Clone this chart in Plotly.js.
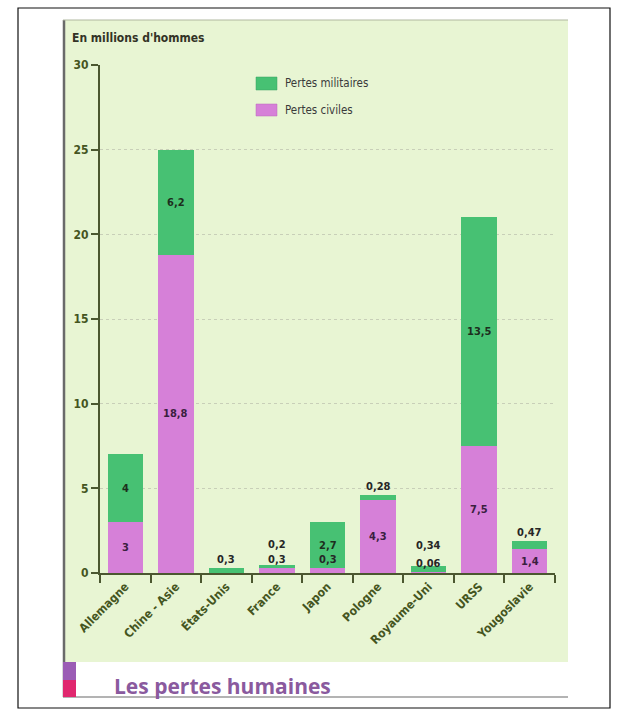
<!DOCTYPE html>
<html>
<head>
<meta charset="utf-8">
<script src="https://cdn.plot.ly/plotly-3.0.1.min.js"></script>
<style>html,body{margin:0;padding:0;background:#fff;}#chart{width:628px;height:724px;}</style>
</head>
<body>
<div id="chart"></div>
<script>
const categories = ["Allemagne", "Chine - Asie", "États-Unis", "France", "Japon", "Pologne", "Royaume-Uni", "URSS", "Yougoslavie"];
const pertesCiviles = [3, 18.8, 0, 0.3, 0.3, 4.3, 0.06, 7.5, 1.4];
const pertesMilitaires = [4, 6.2, 0.3, 0.2, 2.7, 0.28, 0.34, 13.5, 0.47];
const yTicks = [0, 5, 10, 15, 20, 25, 30];
const seriesNames = ["Pertes militaires", "Pertes civiles"];
const unitLabel = "En millions d'hommes";
const chartTitle = "Les pertes humaines";

const W = 628, H = 724;
const L = 100, R = 555, T = 65, B = 573;
const px = x => (x - L) / (R - L);
const py = y => (B - y) / (B - T);

const green = "#47c173", purple = "#d680d8";
const axisCol = "#4b5730";
const fr = v => String(v).replace('.', ',');
const narrow = "DejaVu Sans Condensed, Liberation Sans Narrow, DejaVu Sans, sans-serif";

const traces = [
  {type: "bar", x: categories, y: pertesCiviles, name: seriesNames[1],
   marker: {color: purple}, hoverinfo: "none"},
  {type: "bar", x: categories, y: pertesMilitaires, name: seriesNames[0],
   marker: {color: green}, hoverinfo: "none"}
];

const labelFont = {family: narrow, size: 11, color: "#262626"};
const annotations = [];
categories.forEach((c, i) => {
  const civ = pertesCiviles[i], mil = pertesMilitaires[i];
  const total = civ + mil;
  let civSmall = false;
  if (civ > 0) {
    if (civ >= 1) {
      annotations.push({x: c, y: civ / 2, xref: "x", yref: "y", text: "<b>" + fr(civ) + "</b>", showarrow: false, font: Object.assign({}, labelFont, {color: "#3a1f3f"})});
    } else {
      civSmall = true;
      annotations.push({x: c, y: civ, xref: "x", yref: "y", yanchor: "bottom", text: "<b>" + fr(civ) + "</b>", showarrow: false, font: labelFont});
    }
  }
  if (mil >= 1) {
    annotations.push({x: c, y: civ + mil / 2, xref: "x", yref: "y", text: "<b>" + fr(mil) + "</b>", showarrow: false, font: Object.assign({}, labelFont, {color: "#1d2e1d"})});
  } else {
    annotations.push({x: c, y: total, xref: "x", yref: "y", yanchor: "bottom", yshift: civSmall ? 12 : 0, text: "<b>" + fr(mil) + "</b>", showarrow: false, font: labelFont});
  }
});

// unit label
annotations.push({xref: "paper", yref: "paper", x: px(70), y: py(38), xanchor: "left", yanchor: "middle",
  text: "<b>" + unitLabel + "</b>", showarrow: false,
  font: {family: narrow, size: 12, color: "#333326"}});
// legend texts
annotations.push({xref: "paper", yref: "paper", x: px(283), y: py(83), xanchor: "left", yanchor: "middle",
  text: seriesNames[0], showarrow: false, font: {family: narrow, size: 11.5, color: "#3a3a3a"}});
annotations.push({xref: "paper", yref: "paper", x: px(283), y: py(110), xanchor: "left", yanchor: "middle",
  text: seriesNames[1], showarrow: false, font: {family: narrow, size: 11.5, color: "#3a3a3a"}});
// title
annotations.push({xref: "paper", yref: "paper", x: px(112), y: py(686), xanchor: "left", yanchor: "middle",
  text: "<b>" + chartTitle + "</b>", showarrow: false,
  font: {family: "Open Sans, Noto Sans, sans-serif", size: 21, color: "#8a5a9e"}});

const rect = (x0, y0, x1, y1, fill, line, lw, layer) => ({type: "rect", xref: "paper", yref: "paper",
  x0: px(x0), x1: px(x1), y0: py(y1), y1: py(y0), fillcolor: fill || "rgba(0,0,0,0)",
  line: {color: line || "rgba(0,0,0,0)", width: lw || 0}, layer: layer || "below"});
const lineS = (x0, y0, x1, y1, col, w) => ({type: "line", xref: "paper", yref: "paper",
  x0: px(x0), x1: px(x1), y0: py(y0), y1: py(y1), line: {color: col, width: w}, layer: "above"});

const shapes = [
  rect(63, 20, 568, 662, "#e8f5d3", null, 0, "below"),
  rect(18, 8, 610, 708, null, "#111111", 1.2, "above"),
  lineS(64, 20, 64, 697, "#6a6a6a", 2.5),
  lineS(63, 20, 568, 20, "#b0b8a0", 1),
  lineS(63, 697, 568, 697, "#9a9a9a", 1.5),
  rect(63, 662, 76, 680, "#9b5cb5", null, 0, "above"),
  rect(63, 680, 76, 697, "#e0276e", null, 0, "above"),
  rect(256, 77, 277, 90, green, "#3aa060", 0.5, "above"),
  rect(256, 104, 277, 116, purple, "#b868b8", 0.5, "above")
];

const tickFont = {family: narrow, size: 12, color: "#45551f", weight: 600};

const layout = {
  width: W, height: H,
  margin: {l: L, r: W - R, t: T, b: H - B, pad: 0},
  paper_bgcolor: "#ffffff", plot_bgcolor: "rgba(0,0,0,0)",
  barmode: "stack", bargap: 0.3, showlegend: false,
  xaxis: {type: "category", range: [-0.5, 8.5], showline: true, linecolor: axisCol, linewidth: 2,
    ticks: "outside", tickson: "boundaries", ticklen: 8, tickwidth: 2, tickcolor: axisCol,
    tickangle: -45, showgrid: false, zeroline: false, tickfont: tickFont},
  yaxis: {range: [0, 30], tickvals: yTicks, ticktext: yTicks.map(String), showline: true, linecolor: axisCol, linewidth: 2,
    ticks: "outside", ticklen: 7, tickwidth: 2, tickcolor: axisCol,
    showgrid: true, gridcolor: "#c8cfb8", griddash: "dot", gridwidth: 1, zeroline: false,
    tickfont: tickFont},
  shapes: shapes,
  annotations: annotations
};

Plotly.newPlot("chart", traces, layout, {staticPlot: true, displayModeBar: false});
</script>
</body>
</html>
